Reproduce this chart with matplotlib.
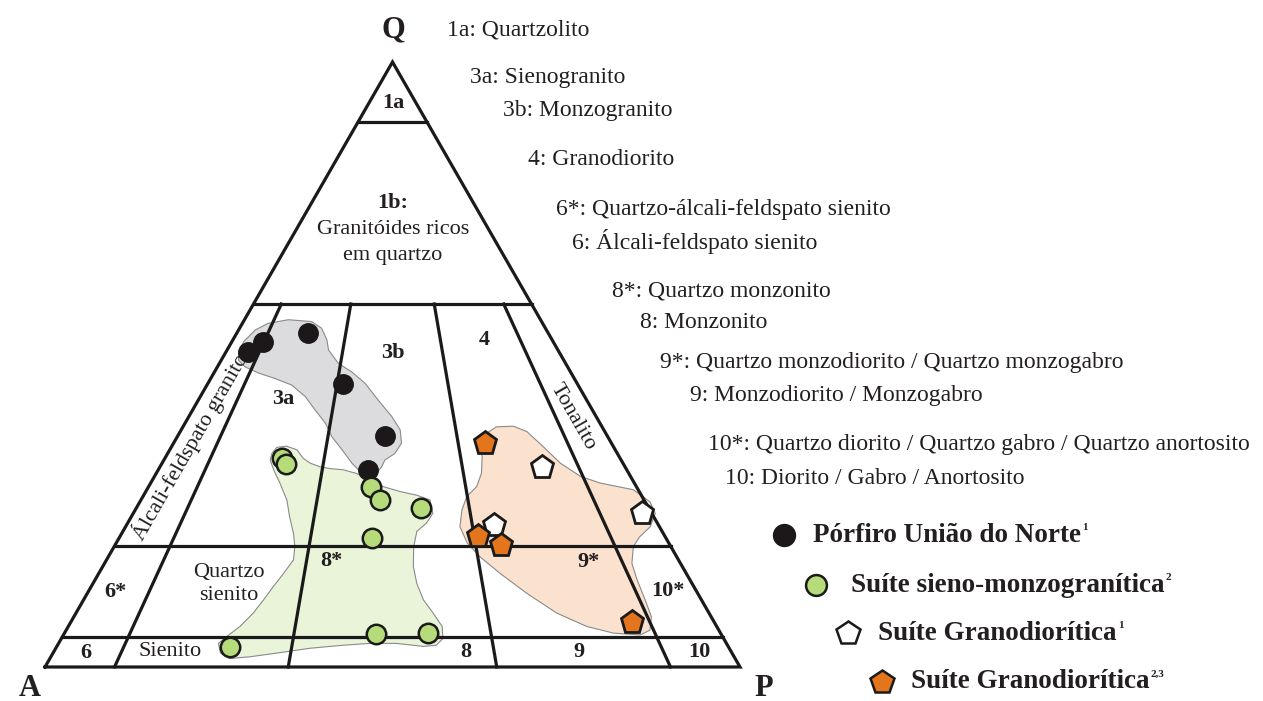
import numpy as np
import matplotlib
matplotlib.use("Agg")
import matplotlib.pyplot as plt

plt.rcParams['font.family'] = ['Liberation Serif', 'DejaVu Serif']

# Streckeisen QAP boundaries (%)
Q_LEVELS = [90, 60, 20, 5]
PA_RATIOS = [10, 35, 65, 90]

# samples, modal Q / A / P (%)
porfiro_q = [52.1, 53.7, 55.2, 46.8, 38.2, 32.6]
porfiro_a = [44.7, 41.8, 34.6, 33.7, 32.0, 37.2]
porfiro_p = [3.2, 4.5, 10.2, 19.5, 29.8, 30.2]

sieno_q = [34.5, 33.6, 29.8, 27.6, 26.2, 21.4, 5.4, 5.7, 3.3]
sieno_a = [48.7, 48.5, 38.2, 38.0, 32.8, 42.2, 49.7, 42.0, 71.7]
sieno_p = [16.8, 17.9, 32.0, 34.4, 41.0, 36.4, 44.9, 52.3, 25.0]

grano1_q = [33.1, 25.5, 23.4]
grano1_a = [12.0, 1.3, 23.7]
grano1_p = [54.9, 73.2, 52.9]

grano23_q = [37.1, 21.7, 20.2, 7.5]
grano23_a = [18.2, 26.8, 24.3, 11.8]
grano23_p = [44.7, 51.5, 55.5, 80.7]

# field outlines (Q, P in %; A = 100 - Q - P)
gray_q = [51.9, 53.8, 55.7, 56.8, 57.4, 57.1, 56.0, 54.1, 52.4, 50.2, 48.8, 46.9, 44.1, 41.4, 39.2, 37.0,
          35.3, 34.2, 33.1, 32.0, 32.0, 33.7, 35.9, 38.1, 40.3, 42.5, 44.7, 46.6, 47.7, 48.6, 49.6, 50.7]
gray_p = [1.9, 1.7, 2.4, 3.7, 6.3, 9.8, 11.8, 13.5, 14.6, 17.1, 19.7, 22.6, 25.9, 29.2, 31.5, 32.8,
          32.7, 31.8, 31.9, 31.7, 29.6, 27.3, 24.8, 22.2, 20.2, 17.6, 15.1, 12.2, 9.2, 6.4, 4.0, 2.5]

green_q = [35.3, 36.3, 36.5, 35.9, 34.5, 33.7, 33.1, 32.8, 32.6, 32.0, 30.9, 29.8, 29.0, 28.4, 27.6, 25.4,
           23.8, 22.4, 19.9, 16.6, 13.8, 11.1, 8.9, 6.7, 4.7, 3.6, 3.4, 3.9, 3.9, 3.6, 3.1, 2.3, 1.7,
           1.4, 2.3, 3.9, 5.0, 6.7, 8.9, 11.1, 13.3, 15.5, 17.7, 19.9, 22.1, 24.8, 27.6, 30.4, 32.6, 34.2]
green_p = [15.0, 15.2, 16.5, 18.3, 19.9, 21.3, 23.0, 24.6, 26.6, 28.8, 31.3, 33.8, 36.6, 39.3, 41.6, 43.1,
           43.0, 42.3, 43.1, 44.7, 46.6, 48.9, 51.4, 53.8, 54.9, 54.5, 52.8, 48.6, 44.8, 41.1, 36.6, 32.2,
           28.7, 25.9, 24.1, 23.0, 23.6, 24.7, 25.5, 25.9, 26.2, 26.6, 26.9, 26.0, 24.7, 22.8, 21.0, 18.6,
           16.6, 15.3]

peach_q = [39.7, 39.8, 38.9, 36.4, 33.7, 31.5, 30.4, 29.3, 27.3, 25.4, 23.2, 21.5, 19.9, 17.1, 14.4, 11.1,
           8.3, 6.1, 5.3, 5.6, 6.7, 8.9, 12.2, 15.5, 18.2, 20.5, 23.2, 26.0, 28.2, 29.8, 32.0, 34.8, 36.4, 38.6]
peach_p = [45.1, 47.5, 49.9, 53.5, 57.3, 61.3, 64.7, 70.0, 73.4, 75.1, 75.5, 74.8, 74.7, 75.9, 78.0, 80.8,
           83.1, 84.0, 83.0, 79.0, 74.6, 69.2, 63.2, 57.7, 53.5, 50.5, 48.1, 47.0, 46.6, 47.2, 46.8, 45.5,
           44.4, 44.2]

names = [
    "1a: Quartzolito", "3a: Sienogranito", "3b: Monzogranito", "4: Granodiorito",
    "6*: Quartzo-álcali-feldspato sienito", "6: Álcali-feldspato sienito",
    "8*: Quartzo monzonito", "8: Monzonito",
    "9*: Quartzo monzodiorito / Quartzo monzogabro", "9: Monzodiorito / Monzogabro",
    "10*: Quartzo diorito / Quartzo gabro / Quartzo anortosito", "10: Diorito / Gabro / Anortosito",
]
names_xy = [(447, 30), (470, 78), (503, 111), (528, 160), (556, 210), (572, 242),
            (612, 291), (640, 323), (660, 363), (690, 395), (708, 445), (725, 478)]

BLACK = '#1c1718'
GREEN = '#b5db7b'
ORANGE = '#e3761c'
LINE = '#1a1a1a'
SQ3 = np.sqrt(3) / 2


def tern(q, p, a=None):
    q = np.asarray(q, float)
    p = np.asarray(p, float)
    if a is not None:
        tot = q + p + np.asarray(a, float)
        q, p = q / tot * 100, p / tot * 100
    return p / 100 + q / 200, q / 100 * SQ3


fig = plt.figure(figsize=(12.63, 7.01), dpi=100)
ax = fig.add_axes([0, 0, 1, 1])
X0, XS = 45, 695     # pixel of A vertex / pixels per unit
Y0, YS = 667, 698.6
ax.set_xlim(-X0 / XS, (1263 - X0) / XS)
ax.set_ylim(-(701 - Y0) / YS, Y0 / YS)
ax.axis('off')


def at(px, py):
    return (px - X0) / XS, (Y0 - py) / YS


# fields
for fq, fp, col in [(gray_q, gray_p, '#dcdcde'), (green_q, green_p, '#e9f4d9'),
                    (peach_q, peach_p, '#fbe2cf')]:
    x, y = tern(fq, fp)
    ax.fill(x, y, facecolor=col, edgecolor='#8a8a8a', lw=0.8, zorder=1)

# diagram lines
LW = 2.3
x, y = tern([0, 100, 0, 0], [0, 0, 100, 0])
ax.plot(x, y, color=LINE, lw=LW, solid_joinstyle='miter', zorder=3)
for q in Q_LEVELS:
    x, y = tern([q, q], [0, 100 - q])
    ax.plot(x, y, color=LINE, lw=LW, zorder=3)
for r in PA_RATIOS:
    x, y = tern([60, 0], [0.4 * r, r])
    ax.plot(x, y, color=LINE, lw=LW, zorder=3)

# samples
x, y = tern(porfiro_q, porfiro_p, porfiro_a)
ax.plot(x, y, 'o', ms=14, mfc=BLACK, mec=BLACK, ls='none', zorder=5)
x, y = tern(sieno_q, sieno_p, sieno_a)
ax.plot(x, y, 'o', ms=14, mfc=GREEN, mec=LINE, mew=1.8, ls='none', zorder=5)
x, y = tern(grano1_q, grano1_p, grano1_a)
ax.plot(x, y, 'p', ms=17, mfc='white', mec=LINE, mew=2, ls='none', zorder=5)
x, y = tern(grano23_q, grano23_p, grano23_a)
ax.plot(x, y, 'p', ms=17, mfc=ORANGE, mec=LINE, mew=2, ls='none', zorder=5)

# vertex and field labels
TXT = '#231f20'
for s, px, py in [("Q", 393, 30), ("A", 30, 688), ("P", 764, 688)]:
    ax.text(*at(px, py), s, fontsize=22, fontweight='bold', ha='center', va='center', color=TXT)

bold_labels = [("1a", 393, 103), ("1b:", 393, 203), ("3a", 283, 399), ("3b", 393, 353), ("4", 484, 340),
               ("6*", 115, 592), ("8*", 331, 561), ("9*", 588, 562), ("10*", 668, 591),
               ("6", 86, 653), ("8", 466, 652), ("9", 579, 652), ("10", 699, 652)]
for s, px, py in bold_labels:
    ax.text(*at(px, py), s, fontsize=16, fontweight='bold', ha='center', va='center', color=TXT, zorder=4)

plain_labels = [("Granitóides ricos", 393, 230), ("em quartzo", 393, 256), ("Quartzo", 229, 572),
                ("sienito", 229, 595), ("Sienito", 170, 651)]
for s, px, py in plain_labels:
    ax.text(*at(px, py), s, fontsize=16, ha='center', va='center', color=TXT, zorder=4)

ax.text(*at(190, 447), "Álcali-feldspato granito", fontsize=16, rotation=60.1,
        rotation_mode='anchor', ha='center', va='center', color=TXT, zorder=4)
ax.text(*at(573, 417), "Tonalito", fontsize=16, rotation=-60.1,
        rotation_mode='anchor', ha='center', va='center', color=TXT, zorder=4)

# rock names list
for s, (px, py) in zip(names, names_xy):
    ax.text(*at(px, py), s, fontsize=17, ha='left', va='center', color=TXT)

# sample legend
legend = [('o', BLACK, BLACK, "Pórfiro União do Norte", "1", 784, 813, 535),
          ('o', GREEN, LINE, "Suíte sieno-monzogranítica", "2", 816, 851, 585),
          ('p', 'white', LINE, "Suíte Granodiorítica", "1", 848, 878, 633),
          ('p', ORANGE, LINE, "Suíte Granodiorítica", "2,3", 882, 911, 682)]
for mk, fc, ec, label, sup, mx, tx, ly in legend:
    ax.plot(*at(mx, ly), mk, ms=15 if mk == 'o' else 18, mfc=fc, mec=ec, mew=1.8, clip_on=False)
    t = ax.text(*at(tx, ly), label, fontsize=19.5, fontweight='bold', ha='left', va='center', color=TXT)
    ax.annotate(sup, xy=(1.0, 0.8), xycoords=t, xytext=(1, 0), textcoords='offset points',
                fontsize=8, fontweight='bold', ha='left', va='center', color=TXT)

fig.savefig("out.png", dpi=100, facecolor='white')
